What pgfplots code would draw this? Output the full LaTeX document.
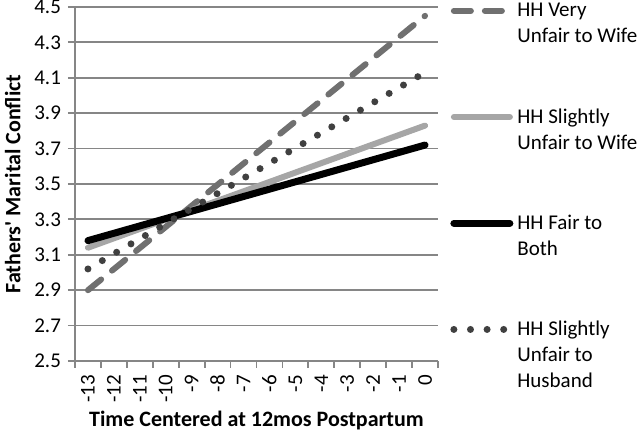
\documentclass[border=0pt]{standalone}
\usepackage{fontspec}
\setmainfont{Carlito}
\usepackage{pgfplots}
\pgfplotsset{compat=1.18}

\definecolor{gridgray}{HTML}{868686}
\definecolor{darkdash}{HTML}{707070}
\definecolor{lightline}{HTML}{A6A6A6}
\definecolor{dotgray}{HTML}{404040}

% legend text, first baseline on the row's baseline
\newcommand{\entry}[1]{\parbox[t]{70pt}{\raggedright\strut #1\strut}}

\begin{document}
\begin{tikzpicture}
\useasboundingbox (-37.5pt,-35pt) rectangle (282.5pt,180.5pt);
\begin{axis}[
  at={(0,0)}, anchor=south west,
  scale only axis, width=181.5pt, height=177pt,
  axis lines*=left,
  axis line style={gridgray, line width=0.9pt},
  xmin=-13.5, xmax=0.5,
  ymin=2.5, ymax=4.5,
  xtick={-13.5,-12.5,...,0.5},
  xticklabels={-13,-12,-11,-10,-9,-8,-7,-6,-5,-4,-3,-2,-1,0},
  x tick label as interval,
  ytick={2.5,2.7,2.9,3.1,3.3,3.5,3.7,3.9,4.1,4.3,4.5},
  yticklabel style={/pgf/number format/.cd, fixed, fixed zerofill, precision=1, assume math mode=true},
  tick align=outside,
  major tick length=3.5pt,
  tick style={gridgray, line width=0.9pt},
  ymajorgrids,
  grid style={gridgray, line width=0.9pt},
  ticklabel style={font=\fontsize{10.5}{12}\selectfont},
  x tick label style={rotate=90, anchor=east},
  xlabel={\textbf{Time Centered at 12mos Postpartum}},
  ylabel={\textbf{Fathers\textquotesingle\ Marital Conflict}},
  xlabel style={yshift=2.5pt},
  label style={font=\fontsize{11}{13}\selectfont},
  clip=false,
  legend style={at={(axis description cs:1.033,1.036)}, anchor=north west,
    draw=none, fill=none, inner sep=0pt, column sep=0pt, row sep=38.5pt,
    nodes={anchor=base west},
    font=\fontsize{10.5}{13}\selectfont},
  legend image code/.code={\draw[#1] (0pt,0.3em) -- (28pt,0.3em);},
]
\addplot[darkdash, line width=3pt, line cap=round, dash pattern=on 8.5pt off 7pt]
  coordinates {(-13,2.90) (0,4.45)};
\addlegendentry{\entry{HH Very\\Unfair to Wife}}
\addplot[lightline, line width=3pt, line cap=round]
  coordinates {(-13,3.14) (0,3.83)};
\addlegendentry{\entry{HH Slightly\\Unfair to Wife}}
\addplot[black, line width=3.5pt, line cap=round]
  coordinates {(-13,3.18) (0,3.72)};
\addlegendentry{\entry{HH Fair to\\Both}}
\addplot[dotgray, line width=3.5pt, line cap=round, dash pattern=on 0pt off 8.3pt]
  coordinates {(-13,3.02) (0,4.13)};
\addlegendentry{\entry{HH Slightly\\Unfair to\\Husband}}
\end{axis}
\end{tikzpicture}
\end{document}
